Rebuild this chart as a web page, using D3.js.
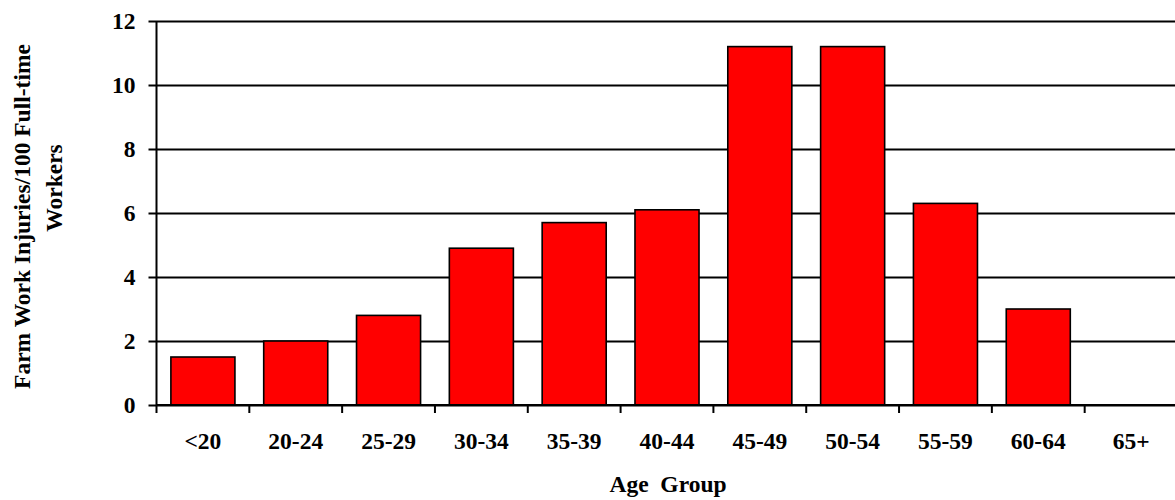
<!DOCTYPE html>
<html>
<head>
<meta charset="utf-8">
<script src="https://cdn.jsdelivr.net/npm/d3@7/dist/d3.min.js"></script>
<style>
  html, body { margin: 0; padding: 0; background: #fff; }
  svg { display: block; }
  text { font-family: "Liberation Serif", "Times New Roman", serif; font-weight: bold; fill: #000; }
</style>
</head>
<body>
<svg id="chart" width="1175" height="500"></svg>
<script>
// Age groups and injury rates per 100 full-time workers
const ageGroups = ["<20", "20-24", "25-29", "30-34", "35-39", "40-44", "45-49", "50-54", "55-59", "60-64", "65+"];
const injuryRates = [1.5, 2.0, 2.8, 4.9, 5.7, 6.1, 11.2, 11.2, 6.3, 3.0, 0];
const yTickValues = [0, 2, 4, 6, 8, 10, 12];

const svg = d3.select("#chart");
const plotLeft = 156.5, plotRight = 1177.5, plotTop = 21, plotBottom = 405;

const x = d3.scaleBand()
  .domain(ageGroups)
  .range([plotLeft, plotRight])
  .paddingInner(0.31)
  .paddingOuter(0.155);

const y = d3.scaleLinear().domain([0, 12]).range([plotBottom, plotTop]);

// Horizontal gridlines with outward ticks and labels
const yAxis = d3.axisLeft(y)
  .tickValues(yTickValues)
  .tickSize(-(plotRight - plotLeft))
  .tickSizeOuter(0)
  .tickPadding(21)
  .tickFormat(d3.format("d"));

const gy = svg.append("g").attr("transform", `translate(${plotLeft},0)`).call(yAxis);
gy.select(".domain").remove();
gy.selectAll(".tick line")
  .attr("x1", -8)
  .attr("stroke", "#000")
  .attr("stroke-width", 2);
gy.selectAll(".tick text")
  .style("font-size", "23.5px");

// Bars
svg.append("g")
  .selectAll("rect")
  .data(ageGroups.map((g, i) => ({ group: g, value: injuryRates[i] })).filter(d => d.value > 0))
  .join("rect")
  .attr("x", d => x(d.group))
  .attr("y", d => y(d.value))
  .attr("width", x.bandwidth())
  .attr("height", d => y(0) - y(d.value))
  .attr("fill", "#ff0000")
  .attr("stroke", "#000")
  .attr("stroke-width", 1.6);

// Vertical axis line
svg.append("line")
  .attr("x1", plotLeft).attr("x2", plotLeft)
  .attr("y1", plotTop).attr("y2", plotBottom)
  .attr("stroke", "#000").attr("stroke-width", 2);

// Category axis: ticks between bands
const gx = svg.append("g").attr("transform", `translate(0,${plotBottom})`);
gx.append("line")
  .attr("x1", plotLeft).attr("x2", plotRight)
  .attr("stroke", "#000").attr("stroke-width", 2);
const step = x.step();
gx.selectAll(".sep")
  .data(d3.range(ageGroups.length + 1))
  .join("line")
  .attr("class", "sep")
  .attr("x1", i => plotLeft + i * step)
  .attr("x2", i => plotLeft + i * step)
  .attr("y1", 0).attr("y2", 8)
  .attr("stroke", "#000").attr("stroke-width", 2);
gx.selectAll(".lbl")
  .data(ageGroups)
  .join("text")
  .attr("class", "lbl")
  .attr("x", d => x(d) + x.bandwidth() / 2)
  .attr("y", 44)
  .attr("text-anchor", "middle")
  .style("font-size", "23.5px")
  .text(d => d);

// Axis titles
svg.append("text")
  .attr("x", 668).attr("y", 492)
  .attr("text-anchor", "middle")
  .style("font-size", "23.5px")
  .style("white-space", "pre")
  .text("Age  Group");

svg.append("text")
  .attr("transform", "translate(30,216.5) rotate(-90)")
  .attr("text-anchor", "middle")
  .style("font-size", "23.5px")
  .text("Farm Work Injuries/100 Full-time");
svg.append("text")
  .attr("transform", "translate(62,188) rotate(-90)")
  .attr("text-anchor", "middle")
  .style("font-size", "23.5px")
  .text("Workers");
</script>
</body>
</html>
